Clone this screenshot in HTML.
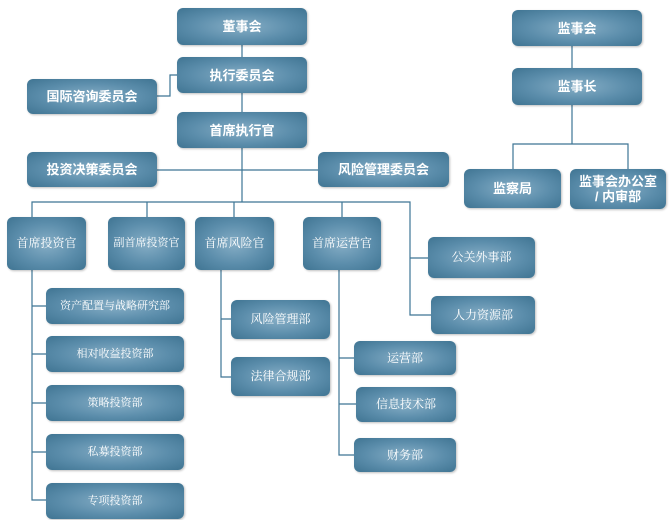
<!DOCTYPE html>
<html><head><meta charset="utf-8"><style>
body{margin:0;width:669px;height:520px;background:#fff;position:relative;overflow:hidden}
.b{position:absolute;box-sizing:border-box;border-radius:6px;background:radial-gradient(ellipse at 50% 50%,#86aec6 0%,#5b8dab 55%,#3f7492 100%);color:#fff;display:flex;align-items:center;justify-content:center;text-align:center;font-family:"Liberation Serif","Noto Serif CJK SC",serif;font-size:12px;line-height:15px;box-shadow:1px 1px 2px rgba(0,0,0,.25)}
.s{font-family:"Liberation Sans","Noto Sans CJK SC",sans-serif;font-weight:bold;font-size:13px}
.t{font-size:11px}
svg{position:absolute;left:0;top:0}
</style></head><body>
<svg width="669" height="520"><g stroke="#3d7595" stroke-width="1.2" fill="none">
<path d="M242 45V202M157 96H170V75H177M157 170H318M32 217V202H410V315H431M410 258H428M147 202V217M234 202V217M342 202V217"/>
<path d="M32 270V500H46M32 306H46M32 354H46M32 403H46M32 452H46"/>
<path d="M221 270V377H231M221 319H231"/>
<path d="M339 270V455H354M339 358H354M339 404H356"/>
<path d="M572 46V68M572 105V144M513 169V144H628V169"/>
</g></svg>
<div class="b s" style="left:177px;top:8px;width:130px;height:37px">董事会</div>
<div class="b s" style="left:177px;top:57px;width:130px;height:36px">执行委员会</div>
<div class="b s" style="left:27px;top:79px;width:130px;height:35px">国际咨询委员会</div>
<div class="b s" style="left:177px;top:112px;width:130px;height:36px">首席执行官</div>
<div class="b s" style="left:27px;top:152px;width:130px;height:35px">投资决策委员会</div>
<div class="b s" style="left:318px;top:152px;width:131px;height:35px">风险管理委员会</div>
<div class="b s" style="left:512px;top:10px;width:130px;height:36px">监事会</div>
<div class="b s" style="left:512px;top:68px;width:130px;height:37px">监事长</div>
<div class="b s" style="left:464px;top:169px;width:97px;height:39px">监察局</div>
<div class="b s" style="left:570px;top:169px;width:96px;height:40px">监事会办公室<br>/ 内审部</div>
<div class="b" style="left:7px;top:217px;width:79px;height:53px">首席投资官</div>
<div class="b t" style="left:108px;top:217px;width:77px;height:53px">副首席投资官</div>
<div class="b" style="left:195px;top:217px;width:79px;height:53px">首席风险官</div>
<div class="b" style="left:303px;top:217px;width:78px;height:53px">首席运营官</div>
<div class="b" style="left:428px;top:237px;width:107px;height:41px">公关外事部</div>
<div class="b" style="left:431px;top:296px;width:104px;height:38px">人力资源部</div>
<div class="b t" style="left:46px;top:288px;width:138px;height:36px">资产配置与战略研究部</div>
<div class="b t" style="left:46px;top:336px;width:138px;height:36px">相对收益投资部</div>
<div class="b t" style="left:46px;top:385px;width:138px;height:36px">策略投资部</div>
<div class="b t" style="left:46px;top:434px;width:138px;height:36px">私募投资部</div>
<div class="b t" style="left:46px;top:483px;width:138px;height:36px">专项投资部</div>
<div class="b" style="left:231px;top:300px;width:99px;height:39px">风险管理部</div>
<div class="b" style="left:231px;top:357px;width:99px;height:39px">法律合规部</div>
<div class="b" style="left:354px;top:341px;width:102px;height:34px">运营部</div>
<div class="b" style="left:356px;top:387px;width:100px;height:35px">信息技术部</div>
<div class="b" style="left:354px;top:438px;width:102px;height:34px">财务部</div>
</body></html>
